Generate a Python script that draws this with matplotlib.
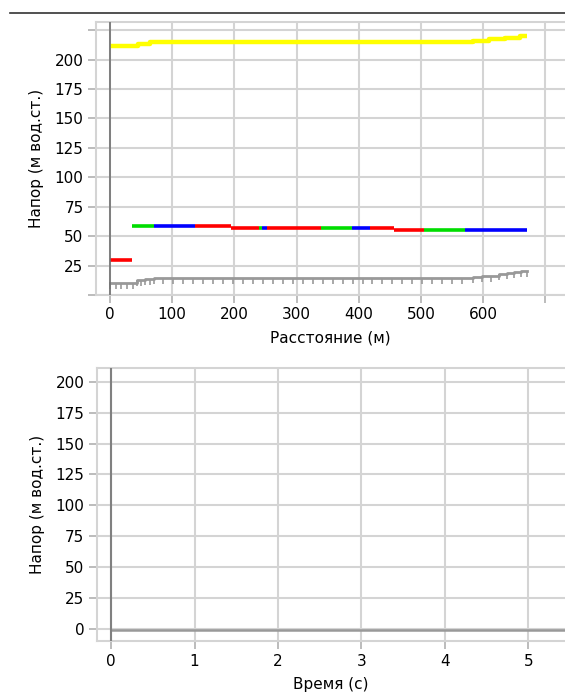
import numpy as np
import matplotlib
matplotlib.use('Agg')
from matplotlib import pyplot as plt
from matplotlib.lines import Line2D

plt.rcParams['font.family'] = ['DejaVu Sans']
plt.rcParams['font.size'] = 11

# верхний график: напор по длине трубопровода
# пьезометрическая линия (жёлтая), ступеньки
yellow_x = [0, 45, 45, 64, 64, 583, 583, 609, 609, 635, 635, 659, 659, 670]
yellow_y = [211.3, 211.3, 213.3, 213.3, 214.7, 214.7, 216, 216, 217.3, 217.3, 218.7, 218.7, 220, 220]

# участки напора: (начало, конец, напор, цвет)
seg_start = [0, 35, 71, 136, 195, 239, 244, 252, 339, 389, 418, 457, 505, 571]
seg_end = [35, 71, 136, 195, 239, 244, 252, 339, 389, 418, 457, 505, 571, 670]
seg_head = [30.1, 58.7, 58.7, 58.7, 57.0, 57.0, 57.0, 57.0, 57.0, 57.0, 57.3, 55.6, 55.6, 55.6]
seg_color = ['#ff0000', '#00dd00', '#0000ff', '#ff0000', '#ff0000', '#00dd00', '#0000ff', '#ff0000',
             '#00dd00', '#0000ff', '#ff0000', '#ff0000', '#00dd00', '#0000ff']

# профиль трубы (серый) по узлам
prof_x = [0, 9, 18, 27, 37, 43, 50, 57, 64, 70, 86, 102, 118, 134, 150, 166, 182,
          198, 214, 230, 246, 262, 278, 294, 310, 326, 342, 358, 374, 390, 406,
          422, 438, 454, 470, 486, 502, 518, 534, 550, 566, 583, 598, 613, 626,
          638, 650, 660, 670]
prof_y = [10.3, 10.3, 10.3, 10.3, 10.3, 12.5, 12.8, 13.2, 14.0, 14.5, 14.5, 14.5,
          14.5, 14.5, 14.5, 14.5, 14.5, 14.5, 14.5, 14.5, 14.5, 14.5, 14.5, 14.5,
          14.5, 14.5, 14.5, 14.5, 14.5, 14.5, 14.5, 14.5, 14.5, 14.5, 14.5, 14.5,
          14.5, 14.5, 14.5, 14.5, 14.5, 15.0, 16.0, 16.5, 17.5, 19.0, 19.5, 20.0, 20.0]

top_xticks = [0, 100, 200, 300, 400, 500, 600, 700]
top_xlabels = ['0', '100', '200', '300', '400', '500', '600', '']
top_yticks = [0, 25, 50, 75, 100, 125, 150, 175, 200, 225]
top_ylabels = ['', '25', '50', '75', '100', '125', '150', '175', '200', '']

# нижний график: напор во времени
time_x = [0, 5.5]
time_y = [-0.5, -0.5]
bot_xticks = [0, 1, 2, 3, 4, 5]
bot_yticks = [0, 25, 50, 75, 100, 125, 150, 175, 200]

grid_c = '#d4d4d4'

W, H = 565, 698
fig = plt.figure(figsize=(W / 100, H / 100), dpi=100)

def style(ax):
    ax.set_facecolor('white')
    ax.grid(True, color=grid_c, lw=1.5)
    ax.set_axisbelow(True)
    for s in ['left', 'bottom', 'top']:
        ax.spines[s].set_color(grid_c)
        ax.spines[s].set_linewidth(1.5)
    ax.spines['right'].set_visible(False)
    ax.tick_params(length=6, width=1.2, color='#b0b0b0', labelcolor='black', pad=3)

ax1 = fig.add_axes([96 / W, 1 - 295 / H, 1 - 96 / W, (295 - 22) / H])
style(ax1)
ax1.axvline(0, color='#707070', lw=1.2, zorder=3)
ax1.plot(yellow_x, yellow_y, color='#ffff00', lw=3.2, solid_capstyle='butt')
for x0, x1, h, c in zip(seg_start, seg_end, seg_head, seg_color):
    ax1.plot([x0, x1], [h, h], color=c, lw=2.6, solid_capstyle='butt')
ax1.plot(prof_x, prof_y, color='#999999', lw=2.0, drawstyle='steps-post')
ax1.plot(prof_x, prof_y, ls='none', marker=3, ms=4, mew=1.2, color='#999999')
ax1.set_xlim(-22.5, (565 - 110) / 0.622)
ax1.set_ylim(0, 232)
ax1.set_xticks(top_xticks)
ax1.set_xticklabels(top_xlabels)
ax1.set_yticks(top_yticks)
ax1.set_yticklabels(top_ylabels)
ax1.set_xlabel('Расстояние (м)', labelpad=6)
ax1.set_ylabel('Напор (м вод.ст.)', labelpad=8)

ax2 = fig.add_axes([97 / W, 1 - 641 / H, 1 - 97 / W, (641 - 368) / H])
style(ax2)
ax2.axvline(0, color='#808080', lw=1.5, zorder=3)
ax2.plot(time_x, time_y, color='#999999', lw=1.8)
ax2.set_xlim(-0.17, 5.44)
ax2.set_ylim(-9.5, 211)
ax2.set_xticks(bot_xticks)
ax2.set_yticks(bot_yticks)
ax2.set_xlabel('Время (с)', labelpad=6)
ax2.set_ylabel('Напор (м вод.ст.)', labelpad=8)

# разделительная линия сверху
fig.add_artist(Line2D([10 / W, 1], [1 - 13 / H, 1 - 13 / H], color='#333333', lw=1.2))

fig.savefig('out.png', dpi=100)
